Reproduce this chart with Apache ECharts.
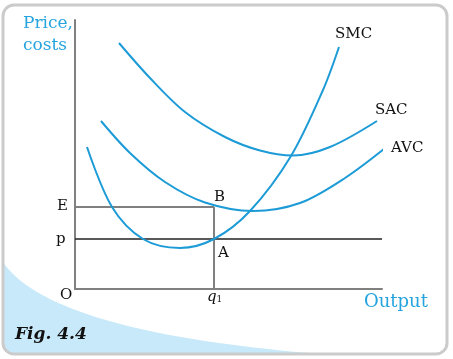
<!DOCTYPE html>
<html>
<head>
<meta charset="utf-8">
<script src="https://cdn.jsdelivr.net/npm/echarts@6/dist/echarts.min.js"></script>
<style>html,body{margin:0;padding:0;background:#fff;}#c{width:453px;height:359px;}</style>
</head>
<body>
<div id="c"></div>
<script>
// Output (x) and price/cost (y) values (arbitrary units)
var smcX = [12, 37, 68, 105, 139, 175, 216, 248, 264];
var smcY = [142, 82, 50, 41, 50, 78, 133, 199, 242];
var sacX = [44, 75, 110, 150, 185, 218, 255, 302];
var sacY = [246, 211, 177, 152, 138.5, 133.5, 142, 168];
var avcX = [26, 55, 90, 130, 178, 225, 270, 314];
var avcY = [168, 136, 107, 86.5, 78, 86, 111, 144];
var q1 = 139;        // output q1
var eLevel = 82;     // E level (AVC at q1)
var pLevel = 50;     // price p
var xMax = 307, yMax = 269;

function pairs(xs, ys){ return xs.map(function(x,i){ return [x, ys[i]]; }); }

var blue = '#1c9bd7';
var textBlue = '#25a4de';
var serif = '"DejaVu Serif", serif';

// decorative swoosh outline (quadratic curve) for the background
var swoosh = [];
for (var i = 0; i <= 40; i++) {
  var t = i / 40, u = 1 - t;
  swoosh.push([u*u*3 + 2*u*t*50 + t*t*320, u*u*262 + 2*u*t*332 + t*t*354]);
}
swoosh.push([14,354]); swoosh.push([6,351]); swoosh.push([3,343]);

var chart = echarts.init(document.getElementById('c'), null, {renderer:'canvas'});
var curve = function(name, data){
  return {name:name, type:'line', data:data, smooth:0.33, showSymbol:false, clip:false,
    lineStyle:{color:blue, width:2}, z:3};
};
var ref = function(name, data, color, w){
  return {name:name, type:'line', data:data, showSymbol:false, clip:false,
    lineStyle:{color:color, width:w}, z:2};
};
function txt(t, x, y, size, color, extra){
  var s = {text:t, x:x, y:y, font:(extra ? extra + ' ' : '') + size + 'px ' + serif, fill:color, align:'left', verticalAlign:'middle'};
  return {type:'text', z:100, style:s};
}
chart.setOption({
  animation:false,
  grid:{left:75, top:20, width:307, height:269, containLabel:false},
  xAxis:{type:'value', min:0, max:xMax, axisLine:{show:true, lineStyle:{color:'#808080', width:2}},
    axisTick:{show:false}, axisLabel:{show:false}, splitLine:{show:false}},
  yAxis:{type:'value', min:0, max:yMax, axisLine:{show:true, lineStyle:{color:'#808080', width:2}},
    axisTick:{show:false}, axisLabel:{show:false}, splitLine:{show:false}},
  series:[
    ref('E', [[0,eLevel],[q1,eLevel]], '#808080', 2),
    ref('q1', [[q1,0],[q1,eLevel]], '#808080', 2),
    ref('p', [[0,pLevel],[xMax,pLevel]], '#222', 1.6),
    curve('SMC', pairs(smcX, smcY)),
    curve('SAC', pairs(sacX, sacY)),
    curve('AVC', pairs(avcX, avcY))
  ],
  graphic:[
    {type:'polygon', z:-10, shape:{points:swoosh}, style:{fill:'#c8e9f9'}},
    {type:'rect', z:99, shape:{x:3, y:5, width:444, height:349, r:11}, style:{fill:'none', stroke:'#cbcbcb', lineWidth:3}},
    txt('Price,', 23, 24, 17, textBlue),
    txt('costs', 23, 46, 17, textBlue),
    txt('Output', 364, 302, 18, textBlue),
    txt('SMC', 335, 34, 15, '#111'),
    txt('SAC', 375, 110, 15, '#111'),
    txt('AVC', 391, 148, 15, '#111'),
    txt('E', 57, 206, 15, '#111'),
    txt('p', 56, 239, 15, '#111'),
    txt('O', 60, 295, 15, '#111'),
    txt('B', 214, 197, 15, '#111'),
    txt('A', 218, 253, 15, '#111'),
    {type:'text', z:100, style:{text:'{q|q}{s|1}', x:207, y:297, align:'left', verticalAlign:'middle',
      rich:{q:{font:'italic 15px ' + serif, fill:'#111'}, s:{font:'9px ' + serif, fill:'#111', padding:[6,0,0,0]}}}},
    txt('Fig. 4.4', 15, 335, 17, '#111', 'italic bold')
  ]
});
</script>
</body>
</html>
